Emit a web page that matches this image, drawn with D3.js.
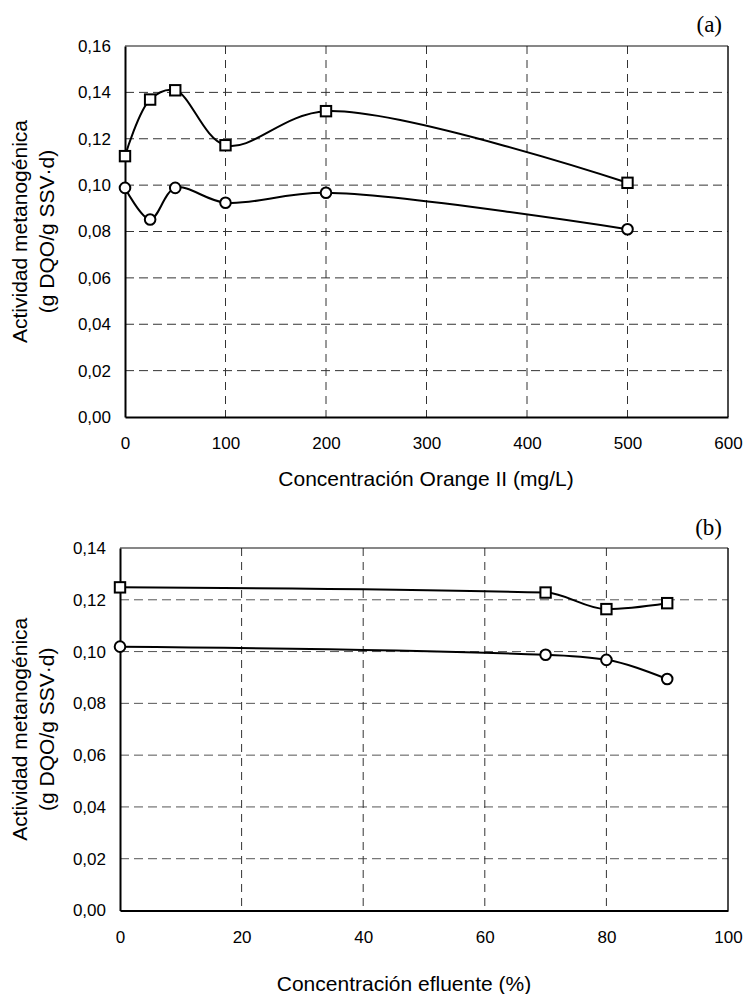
<!DOCTYPE html>
<html>
<head>
<meta charset="utf-8">
<script src="https://cdn.jsdelivr.net/npm/d3@7"></script>
<style>
  body { margin: 0; background: #fff; }
  svg { display: block; }
  text { font-family: "Liberation Sans", Arial, sans-serif; fill: #000; }
</style>
</head>
<body>
<svg class="chart"></svg>
<script>
// panel (a): Orange II concentration
var concA = [0, 25, 50, 100, 200, 500];
var squaresA = [0.1125, 0.1369, 0.1409, 0.1172, 0.1319, 0.1010];
var circlesA = [0.0988, 0.0852, 0.0988, 0.0924, 0.0967, 0.0810];
var xTicksA = [0, 100, 200, 300, 400, 500, 600];
var yTicksA = [0, 0.02, 0.04, 0.06, 0.08, 0.10, 0.12, 0.14, 0.16];

// panel (b): effluent concentration
var concB = [0, 70, 80, 90];
var squaresB = [0.1248, 0.1228, 0.1164, 0.1187];
var circlesB = [0.1019, 0.0988, 0.0968, 0.0894];
var xTicksB = [0, 20, 40, 60, 80, 100];
var yTicksB = [0, 0.02, 0.04, 0.06, 0.08, 0.10, 0.12, 0.14];

var yTitle = ["Actividad metanogénica", "(g DQO/g SSV·d)"];

function show() {
    'use strict';
    var svg = d3.select(".chart")
        .attr("width", 746)
        .attr("height", 994);

    var fmt = function(d) { return d3.format(".2f")(d).replace(".", ","); };

    function panel(o) {
        var g = svg.append("g")
            .attr("transform", "translate(" + o.left + "," + o.top + ")");
        var x = d3.scaleLinear().domain(o.xDomain).range([0, o.width]);
        var y = d3.scaleLinear().domain(o.yDomain).range([o.height, 0]);

        // grid
        g.append("g").selectAll("line").data(o.yTicks.slice(1, -1)).enter()
            .append("line")
            .attr("x1", 0).attr("x2", o.width)
            .attr("y1", y).attr("y2", y)
            .attr("stroke", o.hGrid).attr("stroke-width", 1)
            .attr("stroke-dasharray", "9,5");
        g.append("g").selectAll("line").data(o.xTicks.slice(1, -1)).enter()
            .append("line")
            .attr("x1", x).attr("x2", x)
            .attr("y1", 0).attr("y2", o.height)
            .attr("stroke", "#333").attr("stroke-width", 1)
            .attr("stroke-dasharray", "8,6");

        // frame
        g.append("line").attr("x1", 0).attr("x2", o.width).attr("y1", 0).attr("y2", 0)
            .attr("stroke", "#111").attr("stroke-width", 1.2);
        g.append("line").attr("x1", o.width).attr("x2", o.width).attr("y1", 0).attr("y2", o.height)
            .attr("stroke", "#111").attr("stroke-width", 1.5);

        // axes
        var xAxis = g.append("g").attr("transform", "translate(0," + o.height + ")")
            .call(d3.axisBottom(x).tickValues(o.xTicks).tickSize(0).tickPadding(20));
        var yAxis = g.append("g")
            .call(d3.axisLeft(y).tickValues(o.yTicks).tickFormat(fmt).tickSize(0).tickPadding(14));
        [xAxis, yAxis].forEach(function(a) {
            a.select(".domain").attr("stroke", "#000").attr("stroke-width", 2);
            a.selectAll("text").style("font-family", "Liberation Sans, Arial, sans-serif")
                .style("font-size", o.tickSize + "px").attr("fill", "#000");
        });

        // series
        var line = d3.line()
            .x(function(d) { return x(d[0]); })
            .y(function(d) { return y(d[1]); })
            .curve(o.curve);
        var sq = o.xs.map(function(v, i) { return [v, o.squares[i]]; });
        var ci = o.xs.map(function(v, i) { return [v, o.circles[i]]; });
        [sq, ci].forEach(function(s) {
            g.append("path").attr("d", line(s))
                .attr("fill", "none").attr("stroke", "#000").attr("stroke-width", 2);
        });
        g.append("g").selectAll("circle").data(ci).enter()
            .append("circle")
            .attr("cx", function(d) { return x(d[0]); })
            .attr("cy", function(d) { return y(d[1]); })
            .attr("r", 5.3)
            .attr("fill", "#fff").attr("stroke", "#000").attr("stroke-width", 2);
        g.append("g").selectAll("rect").data(sq).enter()
            .append("rect")
            .attr("x", function(d) { return x(d[0]) - 5.2; })
            .attr("y", function(d) { return y(d[1]) - 5.2; })
            .attr("width", 10.4).attr("height", 10.4)
            .attr("fill", "#fff").attr("stroke", "#000").attr("stroke-width", 2);

        // titles
        g.append("text")
            .attr("x", o.xTitleX - o.left).attr("y", o.xTitleY - o.top)
            .attr("text-anchor", "middle")
            .style("font-size", "21px")
            .text(o.xTitle);
        var yt = g.append("text")
            .attr("transform", "translate(" + (o.yTitleX - o.left) + "," + (o.height / 2) + ") rotate(-90)")
            .attr("text-anchor", "middle")
            .style("font-size", "21px");
        yTitle.forEach(function(t, i) {
            yt.append("tspan").attr("x", 0).attr("dy", i === 0 ? 0 : 26.5).text(t);
        });
        g.append("text")
            .attr("x", o.tagX - o.left).attr("y", o.tagY - o.top)
            .attr("text-anchor", "end")
            .style("font-family", "Liberation Serif, 'Times New Roman', serif")
            .style("font-size", "23px")
            .text(o.tag);
    }

    panel({
        left: 125, top: 46, width: 603, height: 371,
        xDomain: [0, 600], yDomain: [0, 0.16],
        xTicks: xTicksA, yTicks: yTicksA, hGrid: "#333",
        xs: concA, squares: squaresA, circles: circlesA,
        curve: d3.curveCatmullRom.alpha(0.5),
        tickSize: 17, xTitle: "Concentración Orange II (mg/L)", xTitleX: 426, xTitleY: 486,
        yTitleX: 27, tag: "(a)", tagX: 722, tagY: 32
    });
    panel({
        left: 120, top: 548, width: 608, height: 362.5,
        xDomain: [0, 100], yDomain: [0, 0.14],
        xTicks: xTicksB, yTicks: yTicksB, hGrid: "#555",
        xs: concB, squares: squaresB, circles: circlesB,
        curve: d3.curveMonotoneX,
        tickSize: 17, xTitle: "Concentración efluente (%)", xTitleX: 404, xTitleY: 991,
        yTitleX: 27, tag: "(b)", tagX: 722, tagY: 535
    });
}
show();
</script>
</body>
</html>
